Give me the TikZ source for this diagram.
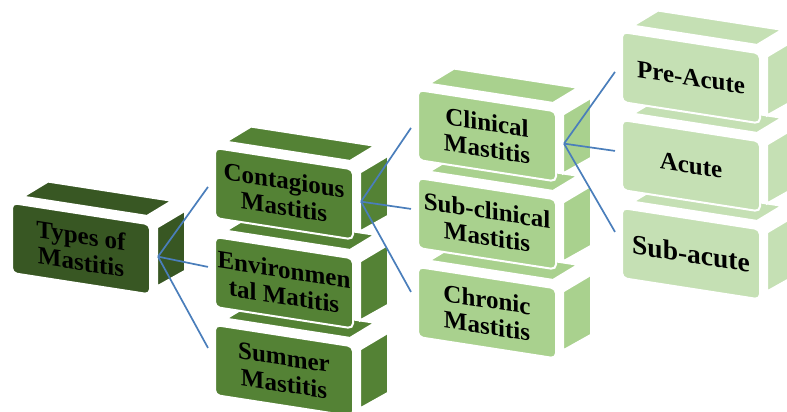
\documentclass[tikz,border=0pt]{standalone}
\usepackage{fontspec}
\setmainfont{Liberation Serif}
\usepackage{tikz}
\definecolor{grpA}{HTML}{385723}
\definecolor{grpB}{HTML}{548235}
\definecolor{grpC}{HTML}{A9D18E}
\definecolor{grpD}{HTML}{C5E0B4}
\definecolor{linkblue}{HTML}{4A7EBB}
\tikzstyle{face} = [rectangle, rounded corners=5pt, minimum width=138pt, minimum height=70pt, inner sep=0pt, text centered, align=center, draw=white, line width=2pt, transform shape, font=\bfseries\fontsize{25}{26.5}\selectfont]
\tikzstyle{side} = [draw=white, line width=2pt]
\tikzstyle{link} = [line width=1.7pt, draw=linkblue]

% one block: name, x, y, colour, height of the incoming line, text
\newcommand{\mastbox}[6]{%
\begin{scope}[shift={(#2,#3)}, yslant=-0.155]
\filldraw[side, fill=#4] (11,-8) -- (135,-8) -- (160,-27) -- (36,-27) -- cycle;
\filldraw[side, fill=#4] (145,2) -- (145,61) -- (173,41) -- (173,-19) -- cycle;
\node (#1) [face, fill=#4] at (69,35) {#6};
\coordinate (#1-out) at (146,31);
\coordinate (#1-in) at (-7,#5);
\end{scope}}

\begin{document}
\begin{tikzpicture}[x=1pt, y=-1pt]
\useasboundingbox (0,0) rectangle (787,412);

\mastbox{types}{12}{203}{grpA}{36}{Types of\\Mastitis}

\mastbox{summer}{215}{325}{grpB}{24}{Summer\\Mastitis}
\mastbox{environ}{215}{237}{grpB}{31}{Environmen\\tal Matitis}
\mastbox{contag}{215}{148}{grpB}{40}{Contagious\\Mastitis}

\mastbox{chronic}{418}{267}{grpC}{26}{Chronic\\Mastitis}
\mastbox{subclin}{418}{178}{grpC}{32}{Sub-clinical\\Mastitis}
\mastbox{clinical}{418}{90}{grpC}{39}{Clinical\\Mastitis}

\mastbox{subacute}{622}{208}{grpD}{25}{\fontsize{27.5}{24}\selectfont Sub-acute}
\mastbox{acute}{622}{120}{grpD}{32}{Acute}
\mastbox{preacute}{622}{32}{grpD}{41}{Pre-Acute}

\draw [link] (types-out) -- (contag-in);
\draw [link] (types-out) -- (environ-in);
\draw [link] (types-out) -- (summer-in);
\draw [link] (contag-out) -- (clinical-in);
\draw [link] (contag-out) -- (subclin-in);
\draw [link] (contag-out) -- (chronic-in);
\draw [link] (clinical-out) -- (preacute-in);
\draw [link] (clinical-out) -- (acute-in);
\draw [link] (clinical-out) -- (subacute-in);
\end{tikzpicture}
\end{document}
